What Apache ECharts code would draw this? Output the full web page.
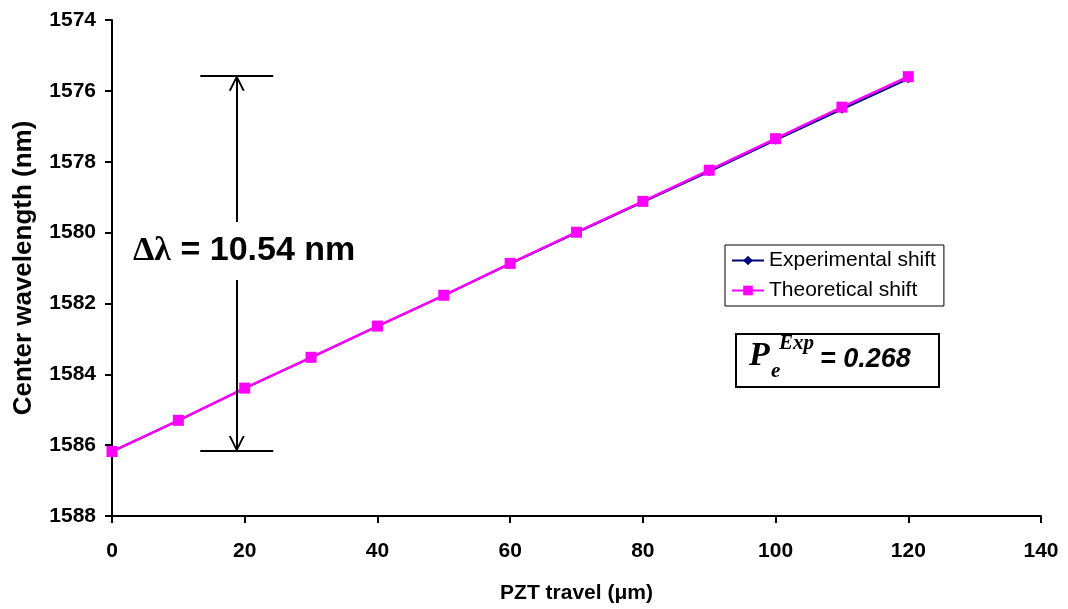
<!DOCTYPE html>
<html lang="en">

<head>
    <meta charset="UTF-8">
    <title>PZT travel</title>
    <script type="text/javascript" src="https://cdn.jsdelivr.net/npm/echarts@6/dist/echarts.min.js"></script>
</head>

<body style="margin:0;background:#fff;">

    <div id="main" style="width:1068px;height:609px;"></div>
</body>
<script type="text/javascript">

    // PZT travel (um)
    var travel = [0, 10, 20, 30, 40, 50, 60, 70, 80, 90, 100, 110, 120];
    // center wavelength (nm)
    var experimental = [1586.18, 1585.31, 1584.40, 1583.53, 1582.65, 1581.78, 1580.88, 1580.01, 1579.14, 1578.28, 1577.39, 1576.52, 1575.66];
    var theoretical = [1586.18, 1585.30, 1584.39, 1583.52, 1582.64, 1581.77, 1580.87, 1579.99, 1579.12, 1578.24, 1577.35, 1576.46, 1575.60];
    var xTicks = { min: 0, max: 140, step: 20 };
    var yTicks = { min: 1574, max: 1588, step: 2 };

    // dimension arrow (data coordinates)
    var arrowX = 18.8, barFrom = 13.3, barTo = 24.3;
    var arrowTop = 1575.58, arrowBottom = 1586.16;
    var gapTop = 1579.70, gapBottom = 1581.34;
    var headOffset = 0.19; // half the arrow head, so its tip lands on the bar

    var font = '"Liberation Sans", Arial, sans-serif';
    var serif = '"Liberation Serif", "Times New Roman", serif';
    var chevron = 'path://M0,10 L6,0 L12,10 L10.4,10 L6,2.6 L1.6,10 Z';

    function pair(x, y) {
        return [x, y];
    }

    var myChart = echarts.init(document.getElementById('main'));

    myChart.setOption({
        animation: false,
        backgroundColor: '#fff',
        grid: {
            left: 112,
            right: 27,
            top: 20,
            bottom: 93
        },
        legend: {
            data: ['Experimental shift', 'Theoretical shift'],
            orient: 'vertical',
            left: 725,
            top: 245,
            padding: [5, 8, 5, 6],
            itemWidth: 32,
            itemHeight: 12,
            itemGap: 9,
            borderColor: '#000',
            borderWidth: 1,
            backgroundColor: '#fff',
            textStyle: {
                fontFamily: font,
                fontSize: 21,
                color: '#000',
                padding: [0, 0, 0, 0]
            }
        },
        xAxis: {
            type: 'value',
            min: xTicks.min,
            max: xTicks.max,
            interval: xTicks.step,
            name: 'PZT travel (\u03bcm)',
            nameLocation: 'middle',
            nameGap: 67,
            nameTextStyle: {
                fontFamily: font,
                fontWeight: 'bold',
                fontSize: 21,
                color: '#000'
            },
            axisLine: { lineStyle: { color: '#000', width: 2 } },
            axisTick: { show: true, length: 7, lineStyle: { color: '#000', width: 2 } },
            axisLabel: {
                fontFamily: font,
                fontWeight: 'bold',
                fontSize: 21,
                color: '#000',
                margin: 25
            },
            splitLine: { show: false }
        },
        yAxis: {
            type: 'value',
            inverse: true,
            min: yTicks.min,
            max: yTicks.max,
            interval: yTicks.step,
            name: 'Center wavelength (nm)',
            nameLocation: 'middle',
            nameGap: 75,
            nameTextStyle: {
                fontFamily: font,
                fontWeight: 'bold',
                fontSize: 26,
                color: '#000'
            },
            axisLine: { show: true, lineStyle: { color: '#000', width: 2 } },
            axisTick: { show: true, length: 7, lineStyle: { color: '#000', width: 2 } },
            axisLabel: {
                fontFamily: font,
                fontWeight: 'bold',
                fontSize: 21,
                color: '#000',
                margin: 16,
                formatter: function (v) { return String(v); }
            },
            splitLine: { show: false }
        },
        series: [
            {
                name: 'Experimental shift',
                type: 'line',
                data: travel.map(function (t, i) { return pair(t, experimental[i]); }),
                symbol: 'diamond',
                symbolSize: 9,
                itemStyle: { color: '#000080' },
                lineStyle: { color: '#000080', width: 2 },
                z: 2
            },
            {
                name: 'Theoretical shift',
                type: 'line',
                data: travel.map(function (t, i) { return pair(t, theoretical[i]); }),
                symbol: 'rect',
                symbolSize: 11,
                itemStyle: { color: '#ff00ff' },
                lineStyle: { color: '#ff00ff', width: 2.5 },
                z: 3,
                markLine: {
                    silent: true,
                    animation: false,
                    symbol: ['none', 'none'],
                    symbolSize: 16,
                    label: { show: false },
                    lineStyle: { color: '#000', width: 2, type: 'solid' },
                    emphasis: { disabled: true },
                    data: [
                        [{ coord: [arrowX, gapTop] }, { coord: [arrowX, arrowTop] }],
                        [{ coord: [arrowX, gapBottom] }, { coord: [arrowX, arrowBottom] }],
                        [{ coord: [arrowX, gapTop] }, { coord: [arrowX, arrowTop + headOffset], symbol: chevron }],
                        [{ coord: [arrowX, gapBottom] }, { coord: [arrowX, arrowBottom - headOffset], symbol: chevron }],
                        [{ coord: [barFrom, arrowTop] }, { coord: [barTo, arrowTop] }],
                        [{ coord: [barFrom, arrowBottom] }, { coord: [barTo, arrowBottom] }]
                    ]
                }
            }
        ],
        graphic: [
            {
                type: 'text',
                left: 133,
                top: 234,
                style: {
                    text: '{g|\u0394\u03bb}{t| = 10.54 nm}',
                    rich: {
                        g: { fontFamily: serif, fontWeight: 'bold', fontSize: 34, fill: '#000' },
                        t: { fontFamily: font, fontWeight: 'bold', fontSize: 34, fill: '#000' }
                    }
                }
            },
            {
                type: 'rect',
                shape: { x: 736, y: 334, width: 203, height: 53 },
                style: { fill: '#fff', stroke: '#000', lineWidth: 2 }
            },
            {
                type: 'text',
                x: 749, y: 339,
                style: { text: 'P', fontFamily: serif, fontStyle: 'italic', fontWeight: 'bold', fontSize: 34, fill: '#000' }
            },
            {
                type: 'text',
                x: 771, y: 361,
                style: { text: 'e', fontFamily: serif, fontStyle: 'italic', fontWeight: 'bold', fontSize: 21, fill: '#000' }
            },
            {
                type: 'text',
                x: 779, y: 333,
                style: { text: 'Exp', fontFamily: serif, fontStyle: 'italic', fontWeight: 'bold', fontSize: 21, fill: '#000' }
            },
            {
                type: 'text',
                x: 820, y: 346,
                style: { text: '= 0.268', fontFamily: font, fontStyle: 'italic', fontWeight: 'bold', fontSize: 27, fill: '#000' }
            }
        ]
    });
</script>

</html>
